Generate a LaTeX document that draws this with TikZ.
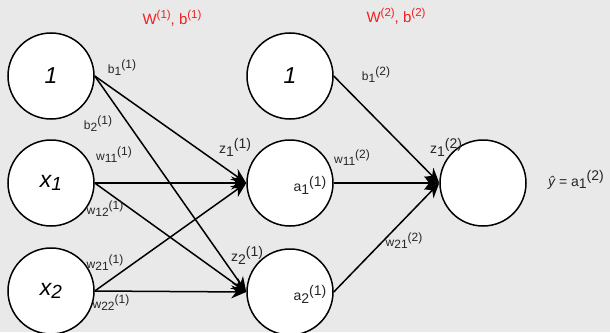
\documentclass[tikz,border=0pt]{standalone}
\usepackage{fontspec}
\setmainfont{Liberation Sans}
\usetikzlibrary{arrows.meta}
\definecolor{bgcol}{HTML}{E9E9E9}
\definecolor{redlbl}{HTML}{F02020}
\newcommand{\lbl}[3]{#1\raisebox{-0.35ex}{#2}\raisebox{0.75ex}{#3}}
\tikzset{
  neuron/.style={circle, draw=black, line width=1.5pt, fill=white, minimum size=86pt, inner sep=0pt},
  big/.style={font=\fontsize{23}{25}\selectfont\itshape},
  small/.style={font=\fontsize{12}{13}\selectfont, text=black!85, inner sep=0pt},
  zlab/.style={font=\fontsize{14}{15}\selectfont, text=black!85, inner sep=0pt},
  wlab/.style={font=\fontsize{15}{16}\selectfont, text=redlbl, inner sep=0pt},
  conn/.style={line width=1.5pt, -{Stealth[length=15pt,width=13pt]}},
}
\begin{document}
\begin{tikzpicture}[x=1pt,y=-1pt]
\fill[bgcol] (0,0) rectangle (610,332);
\useasboundingbox (0,0) rectangle (610,332);
% nodes
\node[neuron, big] (b1) at (51,76) {1};
\node[neuron, big] (x1) at (51,183) {x\raisebox{-0.3ex}{\fontsize{19}{20}\selectfont 1}};
\node[neuron, big] (x2) at (51,291) {x\raisebox{-0.3ex}{\fontsize{19}{20}\selectfont 2}};
\node[neuron, big] (b2) at (290,76) {1};
\node[neuron] (a1) at (290,183) {};
\node[neuron] (a2) at (290,292) {};
\node[neuron] (o) at (483,183) {};
% connectors layer 1
\draw[conn] (b1.east) -- (a1.west);
\draw[conn] (b1.east) -- (a2.west);
\draw[conn] (x1.east) -- (a1.west);
\draw[conn] (x1.east) -- (a2.west);
\draw[conn] (x2.east) -- (a1.west);
\draw[conn] (x2.east) -- (a2.west);
% connectors layer 2
\draw[conn] (b2.east) -- (o.west);
\draw[conn] (a1.east) -- (o.west);
\draw[conn] (a2.east) -- (o.west);
% labels
\node[wlab] (W1) at (172,18) {W\raisebox{0.8ex}{\fontsize{11.5}{12}\selectfont (1)}, b\raisebox{0.8ex}{\fontsize{11.5}{12}\selectfont (1)}};
\node[wlab] (W2) at (396,16) {W\raisebox{0.8ex}{\fontsize{11.5}{12}\selectfont (2)}, b\raisebox{0.8ex}{\fontsize{11.5}{12}\selectfont (2)}};
\node[small] (lb11) at (122,68) {\lbl{b}{1}{(1)}};
\node[small] (lb21) at (98,124) {\lbl{b}{2}{(1)}};
\node[small] (lw11) at (114,155) {\lbl{w}{11}{(1)}};
\node[small] (lw12) at (105,209) {\lbl{w}{12}{(1)}};
\node[small] (lw21) at (105,263) {\lbl{w}{21}{(1)}};
\node[small] (lw22) at (111,303) {\lbl{w}{22}{(1)}};
\node[zlab] (lz11) at (235,147) {\lbl{z}{1}{(1)}};
\node[zlab] (lz21) at (247,255) {\lbl{z}{2}{(1)}};
\node[zlab] (la11) at (310,185) {\lbl{a}{1}{(1)}};
\node[zlab] (la21) at (310,294) {\lbl{a}{2}{(1)}};
\node[small] (lb12) at (376,75) {\lbl{b}{1}{(2)}};
\node[small] (lw112) at (352,158) {\lbl{w}{11}{(2)}};
\node[small] (lw212) at (404,241) {\lbl{w}{21}{(2)}};
\node[zlab] (lz12) at (446,147) {\lbl{z}{1}{(2)}};
\node[zlab] (ly) at (576,180) {{\itshape ŷ} = \lbl{a}{1}{(2)}};
\end{tikzpicture}
\end{document}
